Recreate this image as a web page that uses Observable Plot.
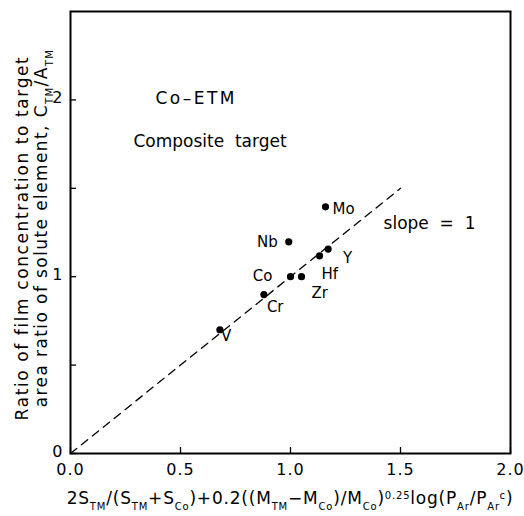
<!DOCTYPE html>
<html>
<head>
<meta charset="utf-8">
<script src="https://cdn.jsdelivr.net/npm/d3@7"></script>
<script src="https://cdn.jsdelivr.net/npm/@observablehq/plot@0.6"></script>
<style>
  html, body { margin: 0; padding: 0; background: #fff; }
  svg { font-family: "DejaVu Sans", sans-serif; }
</style>
</head>
<body>
<div id="chart"></div>
<script>
// Data
const elements = ["Mo", "Nb", "Y", "Hf", "Co", "Zr", "Cr", "V"];
const xValues = [1.159, 0.992, 1.171, 1.132, 1.0, 1.05, 0.879, 0.679];
const yValues = [1.395, 1.197, 1.156, 1.118, 1.0, 1.0, 0.899, 0.70];
const slopeX = [0, 1.5];
const slopeY = [0, 1.5];
const xTicks = [0, 0.5, 1.0, 1.5, 2.0];
const yMinorTicks = [0, 0.5, 1, 1.5, 2];
const yLabelTicks = [0, 1, 2];
const annotationText = ["Co–ETM", "Composite  target", "slope  =  1"];
const annotationX = [0.386, 0.286, 1.423];
const annotationY = [2.006, 1.764, 1.303];

const points = elements.map((e, i) => ({el: e, x: xValues[i], y: yValues[i]}));
const slopeLine = slopeX.map((x, i) => ({x, y: slopeY[i]}));
const annotations = annotationText.map((t, i) => ({t, x: annotationX[i], y: annotationY[i]}));

// label placement (style, not data)
const labelStyle = {
  Mo: {anchor: "start", dx: 7, dy: 2},
  Nb: {anchor: "end", dx: -11, dy: 0},
  Y:  {anchor: "start", dx: 15, dy: 9},
  Hf: {anchor: "start", dx: 2, dy: 18},
  Co: {anchor: "end", dx: -18, dy: -1},
  Zr: {anchor: "start", dx: 10, dy: 16},
  Cr: {anchor: "start", dx: 3, dy: 13},
  V:  {anchor: "start", dx: 1, dy: 6}
};

const labelMarks = elements.map(e => Plot.text(points.filter(d => d.el === e), {
  x: "x", y: "y", text: "el",
  textAnchor: labelStyle[e].anchor, dx: labelStyle[e].dx, dy: labelStyle[e].dy,
  fontSize: 15, fill: "#000"
}));

const W = 524, H = 516;
const plot = Plot.plot({
  width: W, height: H,
  marginLeft: 70, marginRight: 14, marginTop: 11, marginBottom: 63,
  style: {fontFamily: "DejaVu Sans, sans-serif", fontSize: "15px", background: "#fff", color: "#000"},
  x: {domain: [0, 2], label: null},
  y: {domain: [0, 2.5], label: null},
  marks: [
    Plot.frame({stroke: "#000", strokeWidth: 2}),
    Plot.axisX({ticks: xTicks, tickSize: -6, tickFormat: () => "", strokeWidth: 1.3}),
    Plot.axisX({ticks: xTicks, tickSize: 0, tickPadding: 10, tickFormat: d3.format(".1f"), fontSize: 16}),
    Plot.axisY({ticks: yMinorTicks, tickSize: -6, tickFormat: () => "", strokeWidth: 1.3}),
    Plot.axisY({ticks: yLabelTicks, tickSize: 0, tickPadding: 8, dy: -2, tickFormat: d3.format("d"), fontSize: 16}),
    Plot.line(slopeLine, {x: "x", y: "y", stroke: "#000", strokeWidth: 1.3, strokeDasharray: "8,6"}),
    Plot.dot(points, {x: "x", y: "y", r: 3.6, fill: "#000", stroke: "none"}),
    ...labelMarks,
    Plot.text(annotations, {x: "x", y: "y", text: "t", textAnchor: "start", fontSize: 17, fill: "#000"})
  ]
});

document.getElementById("chart").appendChild(plot);

const svg = d3.select(plot);
// widen letter spacing of some texts to match the plotter font
svg.selectAll("text").filter(function() { return this.textContent === "Co–ETM"; })
  .attr("letter-spacing", "2.5px");
svg.selectAll("text").filter(function() { return /^\d\.\d$/.test(this.textContent); })
  .attr("letter-spacing", "1px");

// Axis titles with subscripts
function addRich(g, parts) {
  parts.forEach(p => {
    const ts = g.append("tspan").text(p.t);
    if (p.sub) ts.attr("font-size", "10px").attr("baseline-shift", "sub");
    if (p.sup) ts.attr("font-size", "10px").attr("baseline-shift", "super");
  });
}
const xTitle = svg.append("text")
  .attr("x", 290).attr("y", 504)
  .attr("text-anchor", "middle")
  .attr("font-size", "17px").attr("letter-spacing", "0.8px").attr("fill", "#000");
addRich(xTitle, [
  {t: "2S"}, {t: "TM", sub: true}, {t: "/(S"}, {t: "TM", sub: true}, {t: "+S"}, {t: "Co", sub: true},
  {t: ")+0.2((M"}, {t: "TM", sub: true}, {t: "−M"}, {t: "Co", sub: true}, {t: ")/M"}, {t: "Co", sub: true},
  {t: ")"}, {t: "0.25", sup: true}, {t: "log(P"}, {t: "Ar", sub: true}, {t: "/P"}, {t: "Ar", sub: true}, {t: "c", sup: true}, {t: ")"}
]);

svg.append("text")
  .attr("transform", "translate(28,238) rotate(-90)")
  .attr("text-anchor", "middle")
  .attr("font-size", "17px").attr("letter-spacing", "1.6px").attr("fill", "#000")
  .text("Ratio of film concentration to target");
const yTitle2 = svg.append("text")
  .attr("transform", "translate(47,228) rotate(-90)")
  .attr("text-anchor", "middle")
  .attr("font-size", "17px").attr("letter-spacing", "1.4px").attr("fill", "#000");
addRich(yTitle2, [
  {t: "area ratio of solute element, C"}, {t: "TM", sub: true}, {t: "/A"}, {t: "TM", sub: true}
]);
</script>
</body>
</html>
